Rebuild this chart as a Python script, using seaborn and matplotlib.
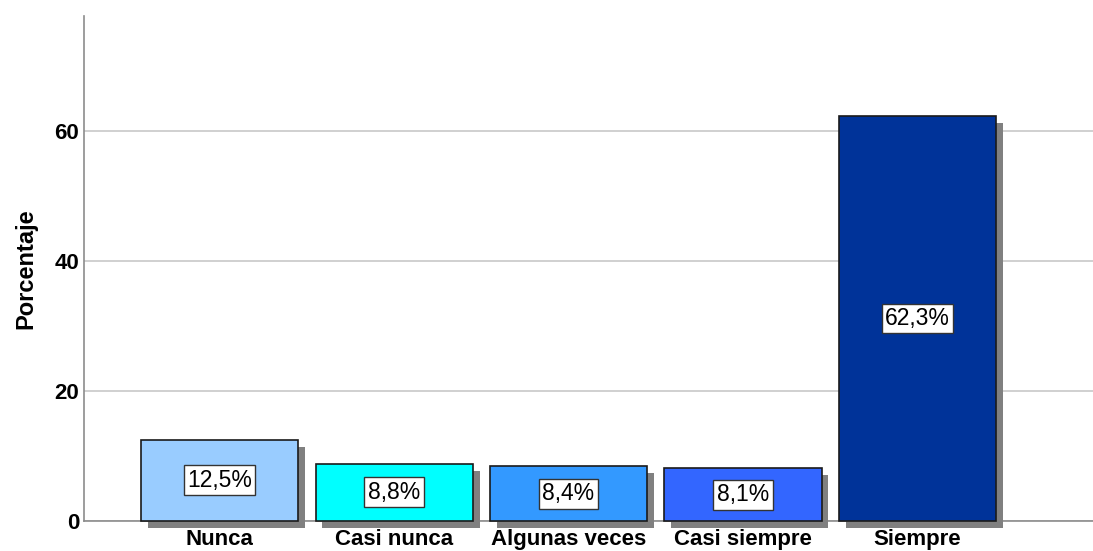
import pandas as pd
import seaborn as sns
import matplotlib.pyplot as plt
import matplotlib.patheffects as pe

categorias = ["Nunca", "Casi nunca", "Algunas veces", "Casi siempre", "Siempre"]
porcentajes = [12.5, 8.8, 8.4, 8.1, 62.3]
colores = ["#99CCFF", "#00FFFF", "#3399FF", "#3366FF", "#003399"]
etiquetas = ["12,5%", "8,8%", "8,4%", "8,1%", "62,3%"]

df = pd.DataFrame({"categoria": categorias, "porcentaje": porcentajes})

sns.set_theme(style="white")
plt.rcParams["font.family"] = ["Liberation Sans", "DejaVu Sans"]
plt.rcParams["text.color"] = "black"
plt.rcParams["axes.labelcolor"] = "black"
plt.rcParams["xtick.color"] = "black"
plt.rcParams["ytick.color"] = "black"

fig = plt.figure(figsize=(10.93, 5.51), dpi=100)
ax = fig.add_axes([84 / 1093, 30 / 551, 1 - 84 / 1093, (521 - 16) / 551])

sns.barplot(data=df, x="categoria", y="porcentaje", hue="categoria",
            palette=colores, saturation=1, width=0.9, edgecolor="#1a1a1a",
            linewidth=1.2, legend=False, ax=ax, zorder=3)

# sombra gris tipo SPSS
for bar in ax.patches:
    bar.set_clip_on(False)
    bar.set_path_effects([pe.SimplePatchShadow(offset=(5, -5), shadow_rgbFace="#808080", alpha=1.0),
                          pe.Normal()])

# etiquetas centradas en cada barra
for i, (v, txt) in enumerate(zip(porcentajes, etiquetas)):
    ax.text(i, v / 2, txt, ha="center", va="center", fontsize=16.5, zorder=5,
            bbox=dict(boxstyle="square,pad=0.15", facecolor="white", edgecolor="#333333", linewidth=1))

ax.set_xlim(-0.777, 5.006)
ax.set_ylim(0, 77.7)
ax.set_yticks([0, 20, 40, 60])
ax.yaxis.grid(True, color="#c8c8c8", linewidth=1.2, zorder=0)
ax.set_axisbelow(True)

for s in ["top", "right"]:
    ax.spines[s].set_visible(False)
for s in ["left", "bottom"]:
    ax.spines[s].set_color("#8c8c8c")
    ax.spines[s].set_linewidth(1.2)
    ax.spines[s].set_zorder(2)

ax.tick_params(axis="both", length=0, labelsize=16)
ax.tick_params(axis="x", pad=5.5)
for lab in ax.get_xticklabels() + ax.get_yticklabels():
    lab.set_fontweight("bold")

ax.set_xlabel("")
ax.set_ylabel("Porcentaje", fontsize=17, fontweight="bold", labelpad=12)

fig.savefig("out.png", dpi=100)
